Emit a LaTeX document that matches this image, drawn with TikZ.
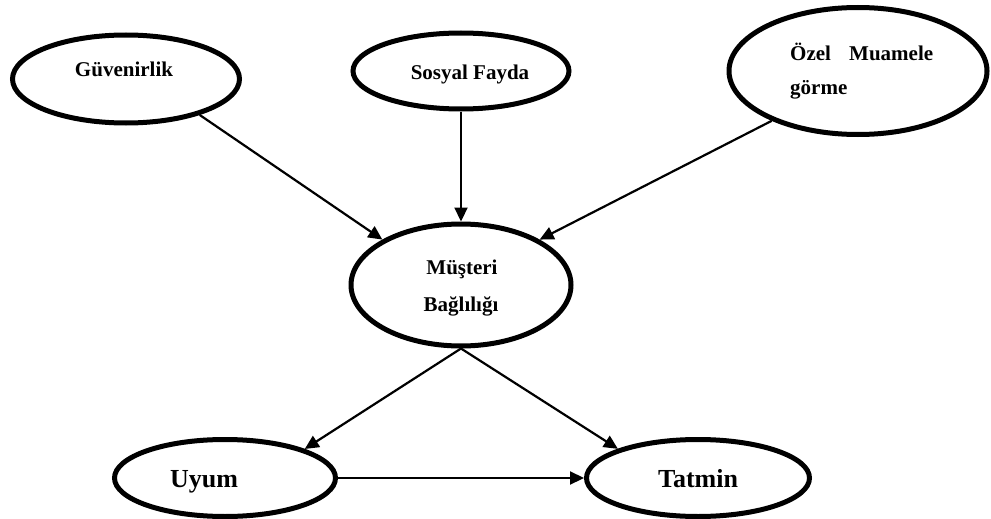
\documentclass[tikz,border=0pt]{standalone}
\usepackage{fontspec}
\setmainfont{Liberation Serif}
\usetikzlibrary{shapes.geometric,arrows.meta}

\begin{document}
\begin{tikzpicture}[x=1pt,y=-1pt,
  construct/.style={ellipse, draw, line width=5pt, inner sep=0pt},
  lbl/.style={anchor=base, inner sep=0pt, font=\fontsize{21}{25}\selectfont\bfseries},
  biglbl/.style={lbl, font=\fontsize{26}{30}\selectfont\bfseries},
  link/.style={line width=2.2pt, -{Triangle[length=14pt,width=13pt]}}
]
\useasboundingbox (0,0) rectangle (991,519);

% constructs
\node[construct, minimum width=227pt, minimum height=88pt]  (g) at (126,79)  {};
\node[construct, minimum width=216pt, minimum height=76pt]  (s) at (461,71)  {};
\node[construct, minimum width=258pt, minimum height=127pt] (o) at (858,71)  {};
\node[construct, minimum width=220pt, minimum height=122pt] (m) at (461,285) {};
\node[construct, minimum width=221pt, minimum height=77pt]  (u) at (225,478) {};
\node[construct, minimum width=223pt, minimum height=77pt]  (t) at (698,478) {};

% labels
\node[lbl] (g-text) at (124,77) {Güvenirlik};
\node[lbl] (s-text) at (470,80) {Sosyal Fayda};
\node[lbl, anchor=base west] (o-text1) at (790,60) {\hbox to 143pt{Özel\hfill Muamele}};
\node[lbl, anchor=base west] (o-text2) at (790,95) {görme};
\node[lbl] (m-text1) at (462,274) {Müşteri};
\node[lbl] (m-text2) at (461,311) {Bağlılığı};
\node[biglbl] (u-text) at (204,487) {Uyum};
\node[biglbl] (t-text) at (698,487) {Tatmin};

% paths
\draw[link] (g.-26) -- (m.150);
\draw[link] (s.south) -- (m.north);
\draw[link] (o.210) -- (m.30);
\draw[link] (m.south) -- (u.20);
\draw[link] (m.south) -- (t.160);
\draw[link] (u.east) -- (t.west);
\end{tikzpicture}
\end{document}
